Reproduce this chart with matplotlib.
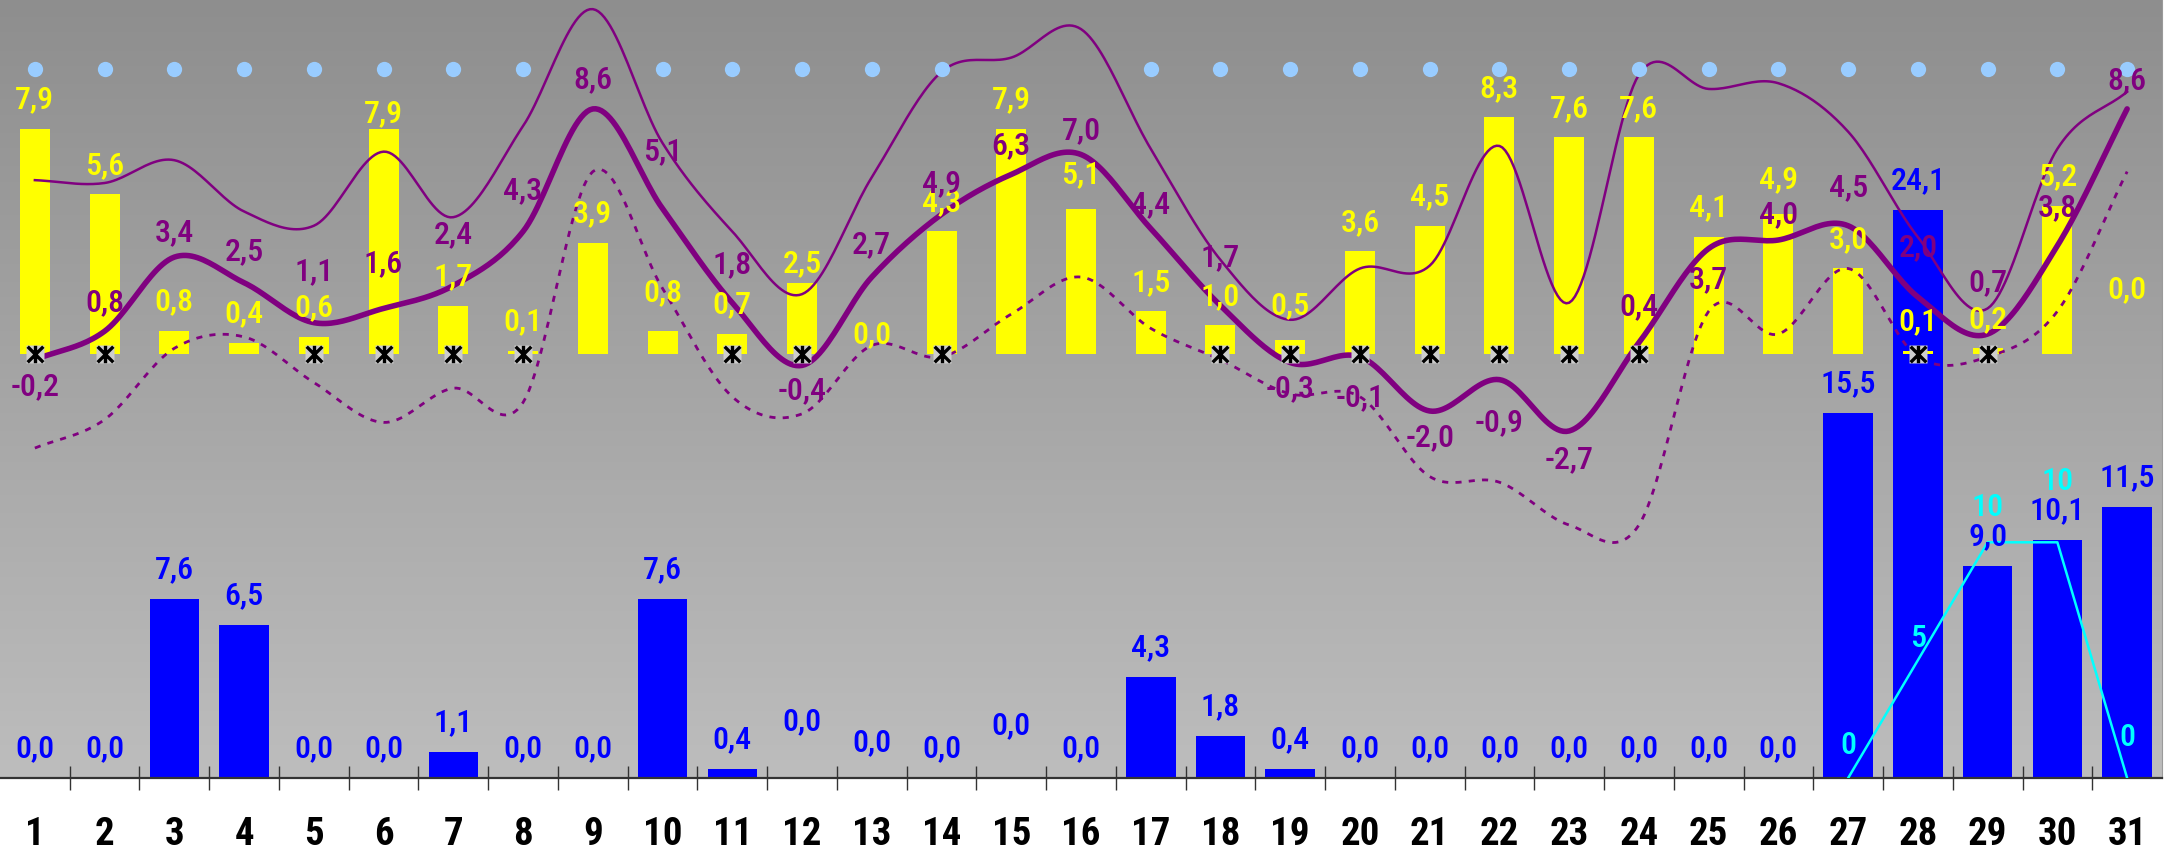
import numpy as np
import matplotlib
matplotlib.use('Agg')
import matplotlib.pyplot as plt
from matplotlib.path import Path
from matplotlib.colors import LinearSegmentedColormap

plt.rcParams['font.family'] = ['Liberation Sans Narrow', 'Roboto Condensed', 'DejaVu Sans']
plt.rcParams['font.stretch'] = 'condensed'

# daily data
days = list(range(1, 32))
sunshine = [7.9, 5.6, 0.8, 0.4, 0.6, 7.9, 1.7, 0.1, 3.9, 0.8, 0.7, 2.5, 0.0, 4.3, 7.9, 5.1,
            1.5, 1.0, 0.5, 3.6, 4.5, 8.3, 7.6, 7.6, 4.1, 4.9, 3.0, 0.1, 0.2, 5.2, 0.0]
precip = [0.0, 0.0, 7.6, 6.5, 0.0, 0.0, 1.1, 0.0, 0.0, 7.6, 0.4, 0.0, 0.0, 0.0, 0.0, 0.0,
          4.3, 1.8, 0.4, 0.0, 0.0, 0.0, 0.0, 0.0, 0.0, 0.0, 15.5, 24.1, 9.0, 10.1, 11.5]
tmean = [-0.2, 0.8, 3.4, 2.5, 1.1, 1.6, 2.4, 4.3, 8.6, 5.1, 1.8, -0.4, 2.7, 4.9, 6.3, 7.0,
         4.4, 1.7, -0.3, -0.1, -2.0, -0.9, -2.7, 0.4, 3.7, 4.0, 4.5, 2.0, 0.7, 3.8, 8.6]
tmax = [6.1, 6.0, 6.8, 5.0, 4.5, 7.1, 4.8, 8.0, 12.1, 7.4, 4.3, 2.1, 6.2, 9.9, 10.4, 11.4,
        7.2, 3.3, 1.2, 3.0, 3.1, 7.3, 1.8, 9.8, 9.3, 9.5, 7.8, 4.1, 1.6, 7.2, 9.2]
tmin = [-3.3, -2.3, 0.2, 0.6, -1.0, -2.4, -1.2, -1.7, 6.4, 2.3, -1.5, -2.1, 0.3, -0.1, 1.4, 2.7,
        0.9, -0.2, -1.4, -1.5, -4.3, -4.5, -6.0, -6.0, 1.5, 0.7, 3.0, -0.1, -0.1, 1.5, 6.4]
snow_days = [27, 28, 29, 30, 31]
snow = [0, 5, 10, 10, 0]
dot_days = [d for d in days if d not in (9, 15, 16)]
frost_days = [d for d, t in zip(days, tmin) if t < 0]

# label offsets (pixels above the point, negative = below)
sun_dy = [30] * 31
for d, v in {6: 16, 10: 39, 12: 20, 13: 20, 16: 35, 19: 35, 26: 36, 31: 65}.items():
    sun_dy[d - 1] = v
mean_dy = [-26, 29, 25, 32, 52, 46, 52, 42, 30, 58, 39, -24, 33, 32, 30, 25,
           25, 49, -25, -40, -26, -42, -28, 37, -30, 26, 39, 50, 52, 39, 29]
prec_dy = [30] * 31
for d, v in {12: 57, 13: 36, 15: 53}.items():
    prec_dy[d - 1] = v
snow_dy = [33, 23, 36, 62, 41]


def smooth(x, y, n=24):
    # Catmull-Rom curve through the points (like a spreadsheet "smoothed line")
    x = np.asarray(x, float)
    y = np.asarray(y, float)
    px = np.r_[2 * x[0] - x[1], x, 2 * x[-1] - x[-2]]
    py = np.r_[2 * y[0] - y[1], y, 2 * y[-1] - y[-2]]
    t = np.linspace(0, 1, n, endpoint=False)[:, None]
    out = []
    for i in range(1, len(px) - 2):
        p = np.array([[px[i + k], py[i + k]] for k in (-1, 0, 1, 2)])
        seg = 0.5 * ((2 * p[1]) + (-p[0] + p[2]) * t
                     + (2 * p[0] - 5 * p[1] + 4 * p[2] - p[3]) * t ** 2
                     + (-p[0] + 3 * p[1] - 3 * p[2] + p[3]) * t ** 3)
        out.append(seg)
    out.append([[x[-1], y[-1]]])
    out = np.vstack(out)
    return out[:, 0], out[:, 1]


def fmt(v):
    return f'{v:.1f}'.replace('.', ',')


def label(axis, x, y, text, color, dy):
    axis.annotate(text, (x, y), xytext=(0, dy * 0.72), textcoords='offset points',
                  ha='center', va='center', color=color, fontsize=23, fontweight='medium',
                  zorder=8)


fig = plt.figure(figsize=(21.68, 8.53), dpi=100, facecolor='white')
ax = fig.add_axes([0, 74 / 853, 2162 / 2168, 779 / 853])

bg = LinearSegmentedColormap.from_list('bg', ['#bdbdbd', '#8e8e8e'])
ax.imshow(np.linspace(0, 1, 256).reshape(-1, 1), extent=[0, 1, 0, 1], transform=ax.transAxes,
          aspect='auto', cmap=bg, origin='lower', zorder=0)

# precipitation + snow depth
ax.bar(days, precip, width=0.71, color='#0000ff', zorder=2)
ax.plot(snow_days, snow, color='#00ffff', lw=1.8, zorder=3)
for d, v, dy in zip(days, precip, prec_dy):
    label(ax, d, v, fmt(v), '#0000ff', dy)
for d, v, dy in zip(snow_days, snow, snow_dy):
    label(ax, d, v, str(v), '#00ffff', dy)

ax.set_xlim(0.5, 31.5)
ax.set_ylim(0, 33.05)

# sunshine + temperature
ax2 = ax.twinx()
ax2.patch.set_visible(False)
ax2.bar(days, sunshine, width=0.43, color='#ffff00', zorder=2)
ax2.plot(*smooth(days, tmax), color='#800080', lw=1.8, zorder=4)
ax2.plot(*smooth(days, tmin), color='#800080', lw=2, ls=(0, (2.2, 2.6)), zorder=4)
ax2.plot(*smooth(days, tmean), color='#800080', lw=4, zorder=5, solid_capstyle='round')
ax2.plot(dot_days, [10] * len(dot_days), 'o', ms=11, color='#99ccff', mec='none', zorder=4)

star = Path([(0, -1), (0, 1), (-0.9, -0.9), (0.9, 0.9), (-0.9, 0.9), (0.9, -0.9)],
            [Path.MOVETO, Path.LINETO] * 3)
ax2.plot(frost_days, [0] * len(frost_days), 's', ms=12.5, color='#cdcdcd', mec='none', zorder=6)
ax2.plot(frost_days, [0] * len(frost_days), ls='none', marker=star, ms=12.5, mec='black',
         mew=2.4, zorder=7)

for d, v, dy in zip(days, sunshine, sun_dy):
    label(ax2, d, v, fmt(v), '#ffff00', dy)
for d, v, dy in zip(days, tmean, mean_dy):
    label(ax2, d, v, fmt(v), '#800080', dy)

ax2.set_ylim(-14.877, 12.456)
ax2.set_xlim(0.5, 31.5)

# axes styling
ax.set_xticks(days)
ax.set_xticklabels([str(d) for d in days], fontsize=28, fontweight='bold')
ax.set_xticks(np.arange(1.5, 31, 1), minor=True)
ax.tick_params(axis='x', which='major', length=0, pad=27)
ax.tick_params(axis='x', which='minor', direction='inout', length=17, width=1, color='#333333')
ax.set_yticks([])
ax2.set_yticks([])
for s in ('top', 'left'):
    ax.spines[s].set_visible(False)
ax.spines['right'].set_color('#9a9a9a')
ax.spines['bottom'].set_color('#333333')
ax.spines['bottom'].set_linewidth(1.6)
for s in ax2.spines.values():
    s.set_visible(False)

fig.savefig('out.png', dpi=100, facecolor='white')
